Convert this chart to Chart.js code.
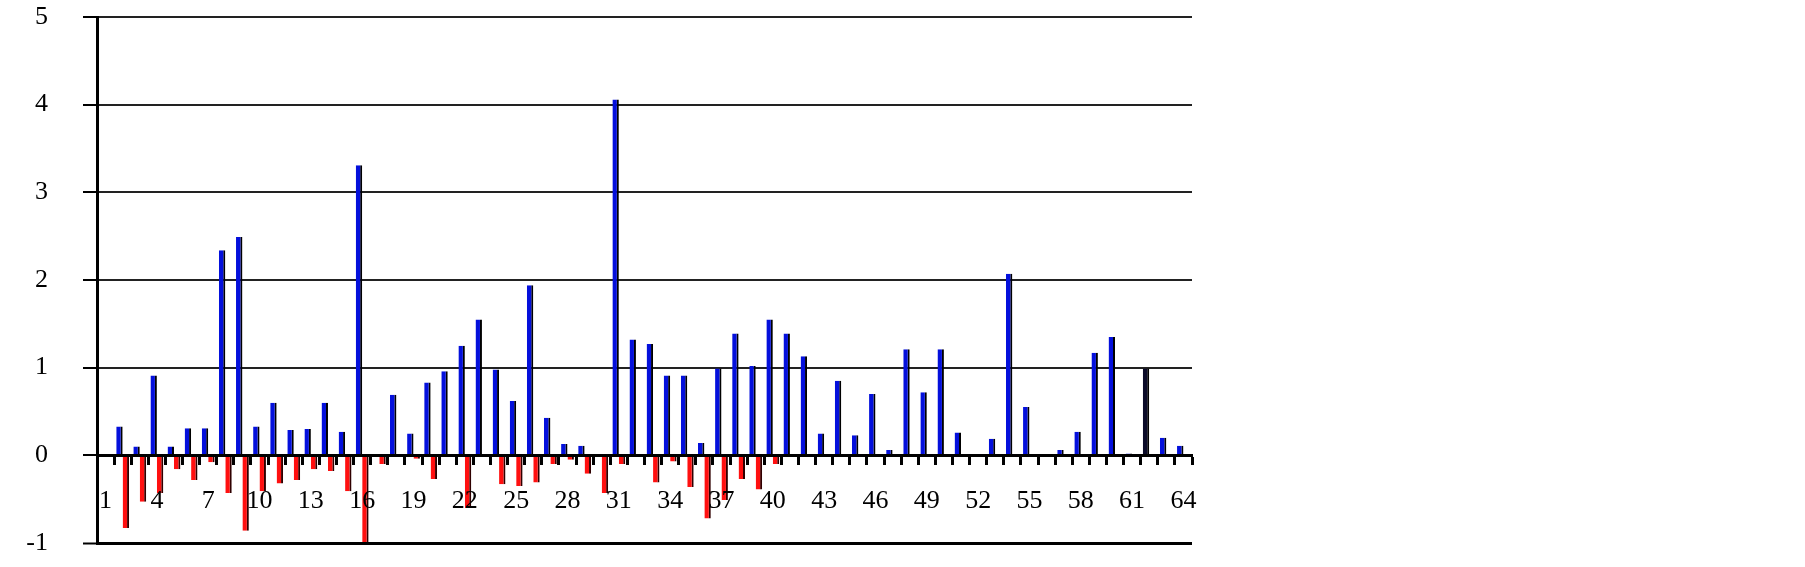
<!DOCTYPE html>
<html>
<head>
<meta charset="utf-8">
<script src="https://cdn.jsdelivr.net/npm/chart.js@4"></script>
<style>
html,body{margin:0;padding:0;background:#fff;}
#wrap{width:1805px;height:567px;position:relative;}
</style>
</head>
<body>
<div id="wrap"><canvas id="c"></canvas></div>
<script>
const categories = ['1','2','3','4','5','6','7','8','9','10','11','12','13','14','15','16',
  '17','18','19','20','21','22','23','24','25','26','27','28','29','30','31','32',
  '33','34','35','36','37','38','39','40','41','42','43','44','45','46','47','48',
  '49','50','51','52','53','54','55','56','57','58','59','60','61','62','63','64'];

const positiveValues = [0, 0.33, 0.10, 0.91, 0.10, 0.31, 0.31, 2.34, 2.49, 0.33, 0.60, 0.29, 0.30, 0.60, 0.27, 3.31,
  0, 0.69, 0.25, 0.83, 0.96, 1.25, 1.55, 0.98, 0.62, 1.94, 0.43, 0.13, 0.11, 0.01, 4.06, 1.32,
  1.27, 0.91, 0.91, 0.14, 0.99, 1.39, 1.02, 1.55, 1.39, 1.13, 0.25, 0.85, 0.23, 0.70, 0.06, 1.21,
  0.72, 1.21, 0.26, 0.01, 0.19, 2.07, 0.55, 0.01, 0.06, 0.27, 1.17, 1.35, 0.02, 0.99, 0.20, 0.11];

const negativeValues = [0, -0.83, -0.53, -0.43, -0.16, -0.28, -0.08, -0.43, -0.86, -0.41, -0.32, -0.28, -0.16, -0.18, -0.41, -0.99,
  -0.10, 0, -0.04, -0.27, 0, -0.60, 0, -0.33, -0.35, -0.31, -0.10, -0.05, -0.21, -0.43, -0.10, 0,
  -0.31, -0.07, -0.36, -0.72, -0.51, -0.27, -0.39, -0.10, 0, 0, 0, 0, 0, 0, 0, 0,
  0, 0, 0, 0, 0, 0, 0, 0, 0, 0, 0, 0, 0, 0, 0, 0];

const yTicks = [-1, 0, 1, 2, 3, 4, 5];
const xLabelStep = 3;
const darkBarCategory = '62';

const serif = "'Liberation Serif', 'DejaVu Serif', 'Times New Roman', serif";

new Chart(document.getElementById('c'), {
  type: 'bar',
  data: {
    labels: categories,
    datasets: [
      {
        data: positiveValues,
        backgroundColor: ctx => categories[ctx.dataIndex] === darkBarCategory ? '#0a0a28' : '#0410dc',
        borderColor: '#000',
        borderWidth: {left: 0, right: 2, top: 0, bottom: 0},
        borderSkipped: 'start'
      },
      {
        data: negativeValues,
        backgroundColor: '#ff1010',
        borderColor: '#300000',
        borderWidth: {left: 0, right: 2, top: 0, bottom: 0},
        borderSkipped: 'start'
      }
    ]
  },
  options: {
    responsive: true,
    maintainAspectRatio: false,
    animation: false,
    layout: {padding: {left: 0, right: 613, top: 17, bottom: 24}},
    plugins: {legend: {display: false}, tooltip: {enabled: false}},
    datasets: {bar: {categoryPercentage: 0.75, barPercentage: 1}},
    scales: {
      x: {
        type: 'category',
        position: {y: 0},
        offset: true,
        grid: {display: true, drawOnChartArea: false, drawTicks: true, tickLength: 8, tickWidth: 3, tickColor: '#000', offset: true},
        border: {display: true, color: '#000', width: 3, z: 1},
        ticks: {
          autoSkip: false, maxRotation: 0, minRotation: 0, padding: 22, color: '#000', z: 1,
          font: {family: serif, size: 26},
          callback: (v, i) => (i % xLabelStep === 0 ? categories[i] : '')
        }
      },
      y: {
        min: -1, max: 5,
        afterFit: s => { s.width = 97; s.paddingTop = 0; s.paddingBottom = 0; },
        afterBuildTicks: s => { s.ticks = yTicks.map(v => ({value: v})); },
        grid: {
          color: ctx => (ctx.tick && ctx.tick.value === -1 ? '#000' : '#222'),
          lineWidth: ctx => (ctx.tick && ctx.tick.value === -1 ? 3 : 2),
          tickLength: 14, tickColor: '#000', tickWidth: 2
        },
        border: {display: true, color: '#000', width: 3},
        ticks: {stepSize: 1, padding: 35, color: '#000', font: {family: serif, size: 26}}
      }
    }
  }
});
</script>
</body>
</html>
